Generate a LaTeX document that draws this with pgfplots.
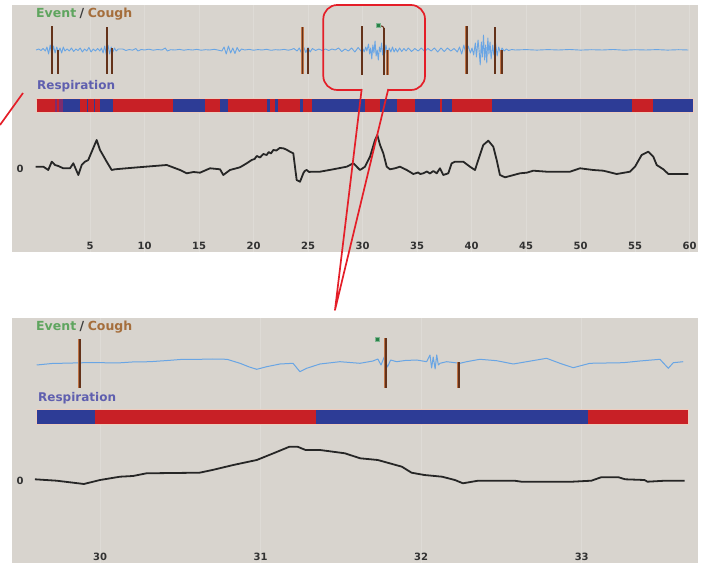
\documentclass[border=0pt]{standalone}
\usepackage{pgfplots}
\pgfplotsset{compat=1.18}
\usepackage{fontspec}
\setmainfont{DejaVu Sans}
\definecolor{panelbg}{RGB}{216,212,206}
\definecolor{gridc}{RGB}{222,219,214}
\definecolor{trace}{RGB}{105,165,228}
\definecolor{mkcore}{RGB}{100,50,26}
\definecolor{mkedge}{RGB}{190,115,70}
\definecolor{barred}{RGB}{200,32,38}
\definecolor{barblue}{RGB}{45,60,150}
\definecolor{barpurple}{RGB}{125,45,110}
\definecolor{barhalo}{RGB}{238,205,190}
\definecolor{resp}{RGB}{38,38,38}
\definecolor{evgreen}{RGB}{95,165,95}
\definecolor{cough}{RGB}{165,110,60}
\definecolor{slashc}{RGB}{60,60,60}
\definecolor{respl}{RGB}{95,95,175}
\definecolor{ticktext}{RGB}{50,50,50}
\definecolor{callout}{RGB}{228,30,40}
\definecolor{dotgreen}{RGB}{40,130,70}
\pgfplotsset{panel/.style={
  scale only axis, anchor=south west,
  axis background/.style={fill=panelbg},
  axis line style={draw=none},
  major tick length=0pt,
  xmajorgrids, grid style={draw=gridc, line width=0.8pt},
  ytick={0}, yticklabels={0},
  tick label style={font=\fontsize{10}{12}\selectfont\bfseries, text=ticktext},
  xticklabel style={anchor=center, yshift=6pt},
  yticklabel style={anchor=center, xshift=8pt},
  /pgf/number format/assume math mode=true,
  unbounded coords=jump,
  clip=true,
}}
\begin{document}
\begin{tikzpicture}
\path[use as bounding box] (0pt,0pt) rectangle (705pt,563pt);
% ---------------- top panel ----------------
\begin{axis}[panel, at={(12pt,311pt)}, width=686pt, height=247pt,
  xmin=-2.156, xmax=60.78, ymin=-83, ymax=164, xtick={5,10,...,60}]
% event / cough trace
\addplot[trace, line width=0.9pt, line join=round] coordinates {
(0.05,119) (0.3,120) (0.5,118.5) (0.7,120.5) (0.9,118) (1.05,122) (1.2,115) (1.35,124) (1.5,114) (1.65,123) (1.8,116) (1.95,122) (2.1,117) (2.25,121) (2.4,116) (2.55,122) (2.7,118) (2.9,120) (3.1,118) (3.3,121) (3.5,117.5) (3.7,120) (3.9,118.5) (4.1,121) (4.3,117) (4.5,120) (4.7,118) (4.9,121.5) (5.1,117) (5.3,120) (5.5,118) (5.7,120.5) (5.9,118) (6.05,121) (6.2,116) (6.35,123) (6.5,114) (6.65,124) (6.8,115) (6.95,122) (7.1,117) (7.25,121) (7.4,118) (7.6,120)
(8.0,120)(8.3,118.5)(8.6,119.5)(8.9,118.8)(9.2,120.5)(9.4,118)(9.7,119.5)(10.0,119)(10.4,119.8)(10.8,118.8)(11.2,119.5)(11.6,119)(11.9,121)(12.1,118)(12.4,119.3)(12.8,119)(13.2,119.6)(13.6,118.8)(14.0,119.4)(14.4,119)(14.8,119.6)(15.2,118.8)(15.6,119.3)(16.0,119)(16.4,119.7)(16.8,118.8)
(17.1,118) (17.3,122) (17.5,115) (17.7,123) (17.9,116) (18.1,121) (18.3,115.5) (18.5,121.5) (18.7,117.5) (18.9,120)
(19.2,119)(19.6,119.6)(20.0,118.8)(20.4,119.4)(20.8,119)(21.2,119.7)(21.6,118.7)(22.0,119.3)(22.4,119)(22.8,119.6)(23.2,118.8)(23.5,119.5)
(23.7,120.5) (24.0,118) (24.2,121) (24.4,116) (24.6,122) (24.8,116.5) (25.0,121.5) (25.2,117) (25.4,120.5) (25.7,118.5) (26.0,120) (26.3,118.5) (26.6,120) (26.9,118.5) (27.2,120) (27.5,119) (27.8,121) (28.1,117.5) (28.4,120) (28.7,118) (29.0,121) (29.3,117) (29.6,121.5)
(29.9,117.5)(30.05,120)(30.15,117)(30.3,122)(30.4,118)(30.55,125)(30.65,115)(30.75,121)(30.85,110)(30.95,124)(31.05,116)(31.15,128)(31.25,113)(31.35,119)(31.45,109)(31.55,122)(31.65,117)(31.75,126)(31.85,114)(31.95,121)(32.05,116)(32.15,124)(32.3,115)(32.45,121)(32.6,117)(32.75,122)(32.9,117)(33.05,120.5)
(33.2,117) (33.4,121) (33.6,117.5) (33.8,120.5) (34.0,118) (34.2,121) (34.5,117.5) (34.8,120.5) (35.1,118) (35.4,121) (35.7,117.5) (36.0,120.5) (36.3,118) (36.6,121) (36.9,117) (37.2,121) (37.5,117.5) (37.8,121) (38.1,118) (38.4,120.5) (38.7,117) (38.9,122) (39.1,115) (39.3,124) (39.5,114) (39.7,123)
(39.9,116)(40.05,121)(40.2,114)(40.35,126)(40.45,112)(40.6,129)(40.7,118)(40.8,104)(40.9,127)(41.0,112)(41.1,134)(41.2,109)(41.3,124)(41.4,106)(41.5,131)(41.6,115)(41.7,127)(41.8,110)(41.95,124)(42.05,114)(42.2,127)(42.35,113)(42.5,122)(42.65,116)(42.8,121)(43.0,118)
(43.2,120) (43.4,118.5) (43.7,119.5) (44.0,119) (45,119.4) (46,118.9) (47,119.4) (48,119) (49,119.5) (50,118.9) (51,119.3) (52,119) (53,119.5) (54,118.8) (55,119.3) (56,119) (57,119.4) (58,118.9) (59,119.3) (59.9,119)};
% cough markers
\addplot[mkedge, line width=2.9pt] coordinates {
(1.51,95)(1.51,143) (1.51,nan) (2.06,95)(2.06,119) (2.06,nan)
(6.56,95)(6.56,142) (6.56,nan) (7.02,95)(7.02,121) (7.02,nan)
(24.5,95)(24.5,142) (24.5,nan) (25.0,95)(25.0,121) (25.0,nan)
(29.95,94)(29.95,143) (29.95,nan) (31.97,94)(31.97,141) (31.97,nan)
(32.29,94)(32.29,119) (32.29,nan)
(39.56,95)(39.56,143) (39.56,nan) (42.16,95)(42.16,142) (42.16,nan)
(42.77,95)(42.77,119)};
\addplot[mkcore, line width=1.7pt] coordinates {
(1.51,95)(1.51,143) (1.51,nan) (2.06,95)(2.06,119) (2.06,nan)
(6.56,95)(6.56,142) (6.56,nan) (7.02,95)(7.02,121) (7.02,nan)
(24.5,95)(24.5,142) (24.5,nan) (25.0,95)(25.0,121) (25.0,nan)
(29.95,94)(29.95,143) (29.95,nan) (31.97,94)(31.97,141) (31.97,nan)
(32.29,94)(32.29,119) (32.29,nan)
(39.56,95)(39.56,143) (39.56,nan) (42.16,95)(42.16,142) (42.16,nan)
(42.77,95)(42.77,119)};
\addplot[mkcore, line width=1pt] coordinates {(31.6,143.5)(31.85,142.5)(31.97,141)};
\addplot[only marks, mark=square*, mark size=1.8pt, mark options={fill=dotgreen, draw=dotgreen!60!white}] coordinates {(31.45,144)};
% respiration bar
\addplot[barhalo, line width=15.5pt] coordinates {(0.03,63.65)(60.43,63.65)};
\addplot[barblue, line width=13.3pt] coordinates {(0.11,63.65)(60.35,63.65)};
\addplot[barpurple, line width=13.3pt] coordinates {(1.79,63.65)(2.55,63.65)};
\addplot[barred, line width=13.3pt] coordinates {
(0.11,63.65)(1.79,63.65) (1.79,nan) (1.97,63.65)(2.16,63.65) (2.16,nan)
(4.08,63.65)(4.70,63.65) (4.70,nan) (4.79,63.65)(5.37,63.65) (5.37,nan)
(5.46,63.65)(5.92,63.65) (5.92,nan) (7.14,63.65)(12.64,63.65) (12.64,nan)
(15.55,63.65)(16.93,63.65) (16.93,nan) (17.69,63.65)(21.21,63.65) (21.21,nan)
(21.51,63.65)(21.97,63.65) (21.97,nan) (22.28,63.65)(24.27,63.65) (24.27,nan)
(24.57,63.65)(25.34,63.65) (25.34,nan) (30.23,63.65)(31.61,63.65) (31.61,nan)
(33.14,63.65)(34.82,63.65) (34.82,nan) (37.11,63.65)(37.32,63.65) (37.32,nan)
(38.18,63.65)(41.85,63.65) (41.85,nan) (54.70,63.65)(56.68,63.65)};
% respiration curve
\addplot[resp, line width=1.8pt, line join=round] coordinates {
(0.0,2.3)(0.72,2.3)(1.17,-1)(1.49,7.3)(1.79,4)(2.09,3)(2.55,0.7)(3.17,0.7)(3.47,5.7)(3.93,-6)(4.24,4)(4.54,7.3)(4.84,9)(5.61,29)(5.92,19)(6.53,7.3)(6.99,-1)(7.29,-0.3)(8.97,1.3)(12.04,4)(13.26,-1)(13.87,-4.3)(14.5,-3)(15.09,-3.7)(16.01,0.7)(16.93,-0.3)(17.23,-6)(17.84,-1)(18.76,1.7)(19.38,5.7)(19.83,9)(20.1,10)(20.3,13)(20.6,11.5)(20.9,15)(21.21,14)(21.4,17)(21.6,15.5)(21.82,19)(22.1,18.5)(22.4,21)(22.73,20.7)(23.0,19.5)(23.35,17.3)(23.65,15.7)(23.96,-11)(24.27,-12.7)(24.57,-4.3)(24.7,-2)(24.88,-1)(25.1,-3)(25.34,-2.7)(26.10,-2.7)(27.32,-0.3)(28.55,2.3)(29.16,5.7)(29.77,-1)(30.23,2.3)(30.69,12.3)(31.15,29)(31.36,34)(31.61,24)(31.91,15.7)(32.22,2.3)(32.52,-0.3)(32.98,0.7)(33.44,2.3)(34.06,-1)(34.66,-5)(35.1,-3.5)(35.3,-5)(35.58,-4.3)(35.9,-2.5)(36.19,-4.5)(36.5,-2)(36.81,-4.3)(37.11,0.7)(37.41,-6)(37.87,-4.3)(38.18,5.7)(38.49,7.3)(39.25,7.3)(39.86,2.3)(40.32,-1)(40.62,9)(41.08,24)(41.54,28.3)(42.0,22.3)(42.31,9)(42.61,-6)(43.07,-8.3)(43.53,-7)(44.45,-4.3)(45.06,-3.7)(45.67,-1.7)(46.9,-2.7)(49.04,-2.7)(49.95,0.7)(51.17,-1)(52.09,-1.7)(53.32,-5)(54.54,-2.7)(55.0,2.3)(55.61,14)(56.22,17.3)(56.68,12.3)(56.99,4)(57.6,-0.3)(58.06,-5)(59.89,-5)};
\end{axis}
% ---------------- bottom panel ----------------
\begin{axis}[panel, at={(12pt,0pt)}, width=686pt, height=245pt,
  xmin=29.452, xmax=33.724, ymin=-82, ymax=163, xtick={30,31,32,33}]
\addplot[trace, line width=1pt, line join=round] coordinates {
(29.606,116)(29.7,117.5)(29.832,118)(29.95,118.5)(30.106,118)(30.2,119)(30.311,119.3)(30.42,120.5)(30.517,121.7)(30.623,121.7)(30.7,122)(30.791,121.7)(30.872,117.7)(30.93,114)(30.976,111.7)(31.038,114.3)(31.121,117)(31.202,117.7)(31.245,109.3)(31.287,112.7)(31.37,117)(31.494,119.3)(31.619,117.7)(31.70,120)(31.73,122)(31.75,116)(31.77,124)(31.79,114)(31.81,121)(31.847,119.3)(31.9,120.5)(31.972,121)(32.034,119.3)(32.055,126)(32.065,113)(32.075,124)(32.087,112)(32.097,126)(32.107,116)(32.117,117.7)(32.159,119.3)(32.242,117.7)(32.283,119.3)(32.366,121.7)(32.47,120.3)(32.574,117)(32.657,119.3)(32.781,122.7)(32.864,117.7)(32.947,113.3)(33.051,117.7)(33.258,118.3)(33.362,120)(33.487,121.7)(33.539,112.7)(33.57,118.3)(33.632,119.3)};
\addplot[mkedge, line width=2.9pt] coordinates {
(29.875,93)(29.875,142) (29.875,nan) (31.78,93)(31.78,143) (31.78,nan) (32.235,93)(32.235,119)};
\addplot[mkcore, line width=1.7pt] coordinates {
(29.875,93)(29.875,142) (29.875,nan) (31.78,93)(31.78,143) (31.78,nan) (32.235,93)(32.235,119)};
\addplot[only marks, mark=square*, mark size=1.8pt, mark options={fill=dotgreen, draw=dotgreen!60!white}] coordinates {(31.727,141.7)};
\addplot[barhalo, line width=15.5pt] coordinates {(29.604,64)(33.666,64)};
\addplot[barblue, line width=14pt] coordinates {(29.61,64)(33.66,64)};
\addplot[barred, line width=14pt] coordinates {(29.97,64)(31.345,64) (31.345,nan) (33.04,64)(33.66,64)};
\addplot[resp, line width=1.8pt, line join=round] coordinates {
(29.595,1.7)(29.73,0.3)(29.90,-3)(30.0,1)(30.125,4.3)(30.205,5)(30.29,7.7)(30.62,8.3)(30.70,11)(30.83,16)(30.976,21)(31.08,27.7)(31.18,34.3)(31.23,34.3)(31.28,31)(31.37,31)(31.45,29.3)(31.525,27.7)(31.62,22.7)(31.73,21)(31.88,14.3)(31.94,8.3)(32.02,6)(32.13,4.3)(32.21,1)(32.26,-2.3)(32.355,0.3)(32.58,0.3)(32.625,-0.7)(32.94,-0.7)(33.06,0.3)(33.12,3.7)(33.23,3.7)(33.27,1.7)(33.39,1)(33.41,-0.7)(33.52,0.3)(33.64,0.3)};
\end{axis}
% ---------------- labels and callout ----------------
\begin{scope}[x=1pt,y=-1pt,shift={(0pt,563pt)}]
\node[anchor=base west, inner sep=0pt, font=\fontsize{12.5}{14}\selectfont\bfseries] at (36,18)
  {\textcolor{evgreen}{Event}\hspace{3.5pt}\textcolor{slashc}{/}\hspace{3.5pt}\textcolor{cough}{Cough}};
\node[anchor=base west, inner sep=0pt, font=\fontsize{12}{14}\selectfont\bfseries, text=respl] at (37,90) {Respiration};
\node[anchor=base west, inner sep=0pt, font=\fontsize{12.5}{14}\selectfont\bfseries] at (36,331)
  {\textcolor{evgreen}{Event}\hspace{3.5pt}\textcolor{slashc}{/}\hspace{3.5pt}\textcolor{cough}{Cough}};
\node[anchor=base west, inner sep=0pt, font=\fontsize{12}{14}\selectfont\bfseries, text=respl] at (38,402) {Respiration};
\draw[callout, line width=1.7pt, rounded corners=14pt]
  (361.7,90) -- (323.3,90) -- (323.3,5) -- (425,5) -- (425,90) -- (388.3,90);
\draw[callout, line width=1.7pt, line join=round] (361.7,89) -- (335,310) -- (388.3,89);
\draw[callout, line width=1.7pt] (0,125) -- (23,93);
\end{scope}
\end{tikzpicture}
\end{document}
